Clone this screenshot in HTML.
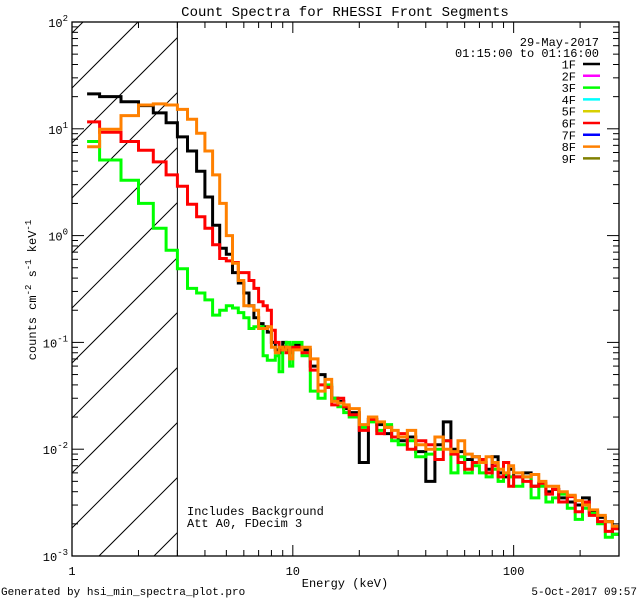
<!DOCTYPE html>
<html><head><meta charset="utf-8">
<style>
html,body{margin:0;padding:0;background:#fff;}
svg{display:block;font-family:"Liberation Mono",monospace;}
</style></head>
<body>
<svg id="chart" width="640" height="600" viewBox="0 0 640 600" xmlns="http://www.w3.org/2000/svg">
<rect x="0" y="0" width="640" height="600" fill="#fff"/>
<text x="345" y="16" font-size="14" text-anchor="middle">Count Spectra for RHESSI Front Segments</text>
<g id="hatch"></g>
<g id="series"></g>
<g id="axes"></g>
<g id="legend"></g>
<text x="187" y="515" font-size="12">Includes Background</text>
<text x="187" y="527" font-size="12">Att A0, FDecim 3</text>
<text x="345" y="587" font-size="12" text-anchor="middle">Energy (keV)</text>
<text transform="translate(36,290) rotate(-90)" font-size="12" text-anchor="middle">counts cm<tspan font-size="9" dy="-5">-2</tspan><tspan dy="5"> s</tspan><tspan font-size="9" dy="-5">-1</tspan><tspan dy="5"> keV</tspan><tspan font-size="9" dy="-5">-1</tspan></text>
<text x="1" y="595" font-size="11">Generated by hsi_min_spectra_plot.pro</text>
<text x="637" y="595" font-size="11" text-anchor="end">5-Oct-2017 09:57</text>
</svg>
<script>
// ---- data ----
var lowEdges = [1.17];
for (var i = 0; i < 26; i++) lowEdges.push(1.3333 + i / 3);
lowEdges.push(10);
var highEdges = [11,12,13,14,15,16,17,18,20,22,24,26,28,30,33,36,40,44,48,52,56,60,65,70,75,80,85,90,95,100,110,120,130,140,150,160,175,190,205,220,240,260,280,300];
var seriesNames = ["1F","3F","6F","8F"];
var seriesColors = ["#000000","#00ff00","#ff0000","#ff8000"];
var black1F = [21.2,20.0,17.9,16.5,14.1,11.4,8.4,6.2,4.0,2.3,1.25,0.76,0.67,0.45,0.36,0.29,0.22,0.17,0.15,0.14,0.125,0.10,0.085,0.08,0.10,0.085,0.08,
 0.095,0.085,0.06,0.05,0.038,0.03,0.028,0.024,0.022,0.0075,0.019,0.017,0.014,0.013,0.012,0.013,0.0095,0.005,0.011,0.018,0.010,0.0095,0.008,0.0085,0.0075,0.0065,0.0085,0.006,0.0055,0.0065,0.0055,0.006,0.0045,0.0048,0.004,0.0042,0.0035,0.0032,0.003,0.0035,0.0026,0.0023,0.0021,0.0016];
var green3F = [7.6,5.1,3.3,2.0,1.17,0.73,0.49,0.32,0.29,0.25,0.18,0.2,0.22,0.21,0.19,0.17,0.135,0.14,0.14,0.075,0.068,0.068,0.075,0.053,0.09,0.1,0.06,
 0.1,0.075,0.035,0.03,0.04,0.03,0.025,0.022,0.02,0.016,0.018,0.015,0.017,0.012,0.011,0.012,0.0085,0.009,0.01,0.012,0.006,0.0085,0.006,0.007,0.006,0.0055,0.0065,0.005,0.0058,0.0055,0.0045,0.0055,0.0035,0.0045,0.0032,0.0035,0.0038,0.0028,0.0022,0.0028,0.0025,0.002,0.0015,0.0016];
var red6F = [11.6,9.3,7.6,6.3,4.9,3.7,2.9,1.97,1.5,1.17,0.82,0.61,0.58,0.56,0.45,0.45,0.38,0.32,0.24,0.22,0.2,0.13,0.10,0.085,0.09,0.08,0.085,
 0.09,0.08,0.055,0.04,0.038,0.026,0.03,0.025,0.021,0.015,0.019,0.014,0.016,0.013,0.014,0.01,0.012,0.011,0.008,0.012,0.009,0.0075,0.0065,0.0075,0.008,0.006,0.007,0.0055,0.0075,0.0045,0.0055,0.005,0.0045,0.0048,0.0038,0.0042,0.0032,0.0036,0.0026,0.0032,0.0024,0.0021,0.0017,0.0018];
var orange8F = [6.8,9.9,13.3,16.7,17.1,16.7,15.2,12.3,9.1,6.2,3.7,2.0,1.0,0.55,0.38,0.22,0.22,0.2,0.135,0.135,0.14,0.09,0.08,0.09,0.085,0.09,0.07,
 0.085,0.09,0.07,0.035,0.045,0.028,0.027,0.026,0.024,0.017,0.02,0.018,0.016,0.015,0.013,0.015,0.011,0.01,0.013,0.01,0.0095,0.012,0.009,0.0085,0.0075,0.0085,0.0075,0.0065,0.006,0.007,0.006,0.0055,0.0058,0.005,0.0045,0.0045,0.004,0.0037,0.0033,0.003,0.0027,0.0024,0.0021,0.0019];
var legendLabels = ["1F","2F","3F","4F","5F","6F","7F","8F","9F"];
var legendColors = ["#000000","#ff00ff","#00ff00","#00ffff","#d8d000","#ff0000","#0000ff","#ff8000","#808000"];
var xTickValues = [1,10,100];
var xTickLabels = ["1","10","100"];
var yTickExps = [-3,-2,-1,0,1,2];

// ---- scales ----
var X0 = 72, X1 = 619, Y0 = 22, Y1 = 556;
var XMIN = 1, XMAX = 300, YMIN = -3, YMAX = 2;
function xs(e){ return X0 + (Math.log10(e) - Math.log10(XMIN)) / (Math.log10(XMAX) - Math.log10(XMIN)) * (X1 - X0); }
function ys(v){ return Y1 - (Math.log10(v) - YMIN) / (YMAX - YMIN) * (Y1 - Y0); }
var NS = "http://www.w3.org/2000/svg";
function mk(tag, attrs, parent){ var el = document.createElementNS(NS, tag); for (var k in attrs) el.setAttribute(k, attrs[k]); parent.appendChild(el); return el; }

var edges = lowEdges.concat(highEdges);

// ---- hatch ----
var hatch = document.getElementById('hatch');
var xh = xs(3);
for (var k = -10; k < 4; k++) {
  var x0 = 99 + 55 * k; // bottom intercept
  var xa = x0, ya = Y1, xb = x0 + (Y1 - Y0), yb = Y0;
  if (xa < X0) { ya = Y1 - (X0 - x0); xa = X0; }
  if (xb > xh) { yb = Y1 - (xh - x0); xb = xh; }
  if (xa >= xb) continue;
  var hl = mk('line', {x1:xa, y1:ya, x2:xb, y2:yb, stroke:'#000', 'stroke-width':1}, hatch);
  
  
}
var hv = mk('line', {x1:xh, y1:Y0, x2:xh, y2:Y1, stroke:'#000', 'stroke-width':1}, hatch);



// ---- series ----
var sg = document.getElementById('series');
var allSeries = [black1F, green3F, red6F, orange8F];
for (var s = 0; s < allSeries.length; s++) {
  var vals = allSeries[s];
  var d = "";
  for (var b = 0; b < vals.length && b + 1 < edges.length; b++) {
    var y = ys(vals[b]);
    d += (b === 0 ? "M" : "L") + xs(edges[b]).toFixed(1) + "," + y.toFixed(1) + "L" + xs(edges[b+1]).toFixed(1) + "," + y.toFixed(1);
  }
  var p = mk('path', {d:d, fill:'none', stroke:seriesColors[s], 'stroke-width':3, 'stroke-linejoin':'miter'}, sg);
  
  
}

// ---- axes ----
var ax = document.getElementById('axes');
var frame = mk('rect', {x:X0, y:Y0, width:X1-X0, height:Y1-Y0, fill:'none', stroke:'#000', 'stroke-width':1.3}, ax);


for (var dec = 1; dec <= 100; dec *= 10) {
  for (var m = 1; m <= 9; m++) {
    var e = dec * m; if (e > XMAX) break;
    var xx = xs(e), len = (m === 1) ? 11 : 6;
    mk('line', {x1:xx, y1:Y1, x2:xx, y2:Y1-len, stroke:'#000'}, ax);
    mk('line', {x1:xx, y1:Y0, x2:xx, y2:Y0+len, stroke:'#000'}, ax);
  }
}
for (var t = 0; t < xTickValues.length; t++) {
  var tl = mk('text', {x:xs(xTickValues[t]), y:575, 'font-size':12, 'text-anchor':'middle'}, ax);
  tl.textContent = xTickLabels[t];
  
  
}
for (var j = 0; j < yTickExps.length; j++) {
  var ex = yTickExps[j];
  for (var m2 = 1; m2 <= 9; m2++) {
    var v = m2 * Math.pow(10, ex);
    if (Math.log10(v) > YMAX + 1e-9) break;
    var yy = ys(v), l2 = (m2 === 1) ? 12 : 6;
    mk('line', {x1:X0, y1:yy, x2:X0+l2, y2:yy, stroke:'#000'}, ax);
    mk('line', {x1:X1, y1:yy, x2:X1-l2, y2:yy, stroke:'#000'}, ax);
  }
  var yl = mk('text', {x:X0-4, y:ys(Math.pow(10, ex))+5, 'font-size':12, 'text-anchor':'end'}, ax);
  
  
  var t1 = document.createElementNS(NS, 'tspan'); t1.textContent = '10'; yl.appendChild(t1);
  var t2 = document.createElementNS(NS, 'tspan'); t2.setAttribute('font-size', '9'); t2.setAttribute('dy', '-6'); t2.textContent = String(ex); yl.appendChild(t2);
}

// ---- legend ----
var lg = document.getElementById('legend');
var dt = mk('text', {x:599, y:46, 'font-size':12, 'text-anchor':'end'}, lg);
dt.textContent = '29-May-2017';


var tm = mk('text', {x:599, y:57, 'font-size':12, 'text-anchor':'end'}, lg);
tm.textContent = '01:15:00 to 01:16:00';


for (var q = 0; q < legendLabels.length; q++) {
  var ly = 64 + q * 11.8;
  var lt = mk('text', {x:576, y:ly+4.5, 'font-size':12, 'text-anchor':'end'}, lg);
  lt.textContent = legendLabels[q];
  
  
  var ll = mk('line', {x1:583, y1:ly, x2:600, y2:ly, stroke:legendColors[q], 'stroke-width':2.5}, lg);
  
  
}
</script>
</body></html>
